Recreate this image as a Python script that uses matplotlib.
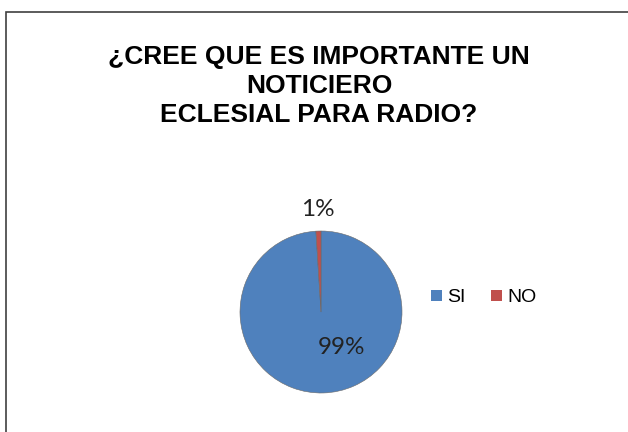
import numpy as np
import matplotlib.pyplot as plt
from matplotlib.patches import Rectangle

# chart data
labels = ['SI', 'NO']
values = [99, 1]
pct_text = ['99%', '1%']
cols = ['#4F81BD', '#C0504D']
title = u'\u00bfCREE QUE ES IMPORTANTE UN\nNOTICIERO\nECLESIAL PARA RADIO?'

W, H = 628, 432
fig = plt.figure(figsize=(W / 100, H / 100), dpi=100, facecolor='w')

# outer chart frame (cropped on right and bottom like the original)
fig.patches.append(Rectangle((6 / W, -0.05), 1.1, 1 - 12 / H + 0.05,
                             transform=fig.transFigure, fill=False,
                             edgecolor='#404040', lw=1.2))

fig.text(319 / W, 1 - 86 / H, title, ha='center', va='center',
         fontsize=19, fontweight='bold', family='Liberation Sans',
         linespacing=1.27)

# pie: center (321, 312), radius 81 px
cx, cy, r = 321, 312, 81
ax = fig.add_axes([(cx - r) / W, (H - cy - r) / H, 2 * r / W, 2 * r / H])
wedges, _ = ax.pie(values, colors=cols, startangle=90, counterclock=False,
                   radius=1, wedgeprops=dict(linewidth=0.4, edgecolor='#6a6a6a'))
ax.set_xlim(-1, 1)
ax.set_ylim(-1, 1)
ax.set_aspect('equal')
ax.axis('off')

# data labels (SI inside, NO outside like Excel best fit)
label_pos = [(0.25, -0.44), None]
for w, t, pos in zip(wedges, pct_text, label_pos):
    if pos is None:
        ang = np.deg2rad((w.theta1 + w.theta2) / 2)
        pos = (1.27 * np.cos(ang), 1.27 * np.sin(ang))
    ax.text(pos[0], pos[1], t, ha='center', va='center', fontsize=17.5,
            family='Lato', color='#222222', clip_on=False)

handles = [Rectangle((0, 0), 1, 1, facecolor=c, edgecolor='none') for c in cols]
fig.legend(handles, labels, loc='center', ncol=2,
           bbox_to_anchor=(484 / W, 1 - 298 / H), frameon=False,
           prop={'family': 'Liberation Sans', 'size': 14}, handlelength=0.55,
           handleheight=0.55, handletextpad=0.3, columnspacing=1.3)

fig.savefig('out.png', dpi=100)
